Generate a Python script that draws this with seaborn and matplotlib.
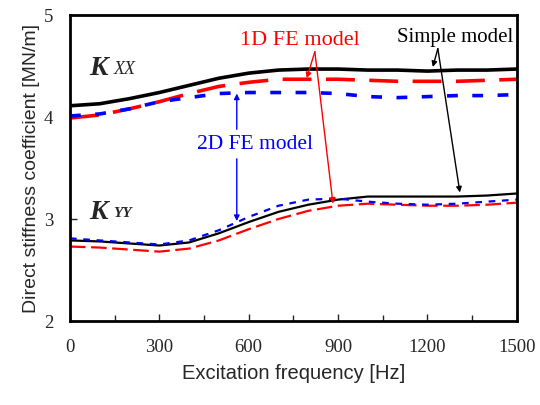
import matplotlib
matplotlib.use("Agg")
import matplotlib.pyplot as plt
import pandas as pd
import seaborn as sns

# Excitation frequency [Hz]
freq = [0, 100, 200, 300, 400, 500, 600, 700, 800, 900, 1000, 1100, 1200, 1300, 1400, 1500]

# Kxx [MN/m]
kxx_simple = [4.11, 4.13, 4.18, 4.24, 4.31, 4.38, 4.43, 4.46, 4.47, 4.47, 4.46, 4.46, 4.45, 4.46, 4.46, 4.47]
kxx_1d = [3.99, 4.02, 4.08, 4.15, 4.23, 4.30, 4.34, 4.37, 4.37, 4.37, 4.36, 4.35, 4.35, 4.35, 4.36, 4.37]
kxx_2d = [4.01, 4.03, 4.08, 4.15, 4.19, 4.23, 4.24, 4.24, 4.24, 4.23, 4.20, 4.19, 4.20, 4.21, 4.21, 4.22]

# Kyy [MN/m]
kyy_simple = [2.79, 2.78, 2.76, 2.74, 2.77, 2.86, 2.97, 3.07, 3.14, 3.19, 3.22, 3.22, 3.22, 3.22, 3.23, 3.25]
kyy_1d = [2.73, 2.72, 2.70, 2.68, 2.71, 2.79, 2.90, 3.00, 3.08, 3.13, 3.15, 3.14, 3.13, 3.13, 3.14, 3.16]
kyy_2d = [2.81, 2.79, 2.77, 2.75, 2.79, 2.89, 3.02, 3.13, 3.19, 3.20, 3.17, 3.15, 3.14, 3.15, 3.17, 3.19]

sns.set_style("ticks")
plt.rcParams['font.family'] = ['Liberation Sans', 'DejaVu Sans']

fig = plt.figure(figsize=(5.4, 4.06), dpi=100)
ax = fig.add_axes([0.1296, 0.2069, 0.8274, 0.7537])

serif = ['Liberation Serif', 'DejaVu Serif']

# (values, colour, dashes, linewidth)
series = [
    (kxx_simple, 'black', '', 2.6),
    (kxx_1d, '#ff0000', (8, 4), 2.6),
    (kxx_2d, '#0000ff', (3, 4), 2.6),
    (kyy_simple, 'black', '', 1.6),
    (kyy_1d, '#ff0000', (7, 2.5), 1.6),
    (kyy_2d, '#0000ff', (3, 3), 1.6),
]
for vals, color, dash, lw in series:
    df = pd.DataFrame({'freq': freq, 'k': vals})
    sns.lineplot(data=df, x='freq', y='k', ax=ax, color=color, linewidth=lw)
    if dash:
        ax.lines[-1].set_dashes(dash)

ax.set_xlim(0, 1500)
ax.set_ylim(2, 5)
ax.set_xticks([0, 300, 600, 900, 1200, 1500])
ax.set_xticks(range(150, 1500, 300), minor=True)
ax.set_yticks([2, 3, 4, 5])
ax.tick_params(direction='in', which='both', labelsize=13.5, pad=12)
ax.tick_params(which='major', length=5, width=1)
ax.tick_params(which='minor', length=4, width=1)
for lab in ax.get_xticklabels() + ax.get_yticklabels():
    lab.set_family(serif)
for s in ax.spines.values():
    s.set_linewidth(2)
    s.set_color('black')

ax.set_xlabel('Excitation frequency [Hz]', fontsize=14.5, labelpad=6)
ax.set_ylabel('Direct stiffness coefficient [MN/m]', fontsize=14, labelpad=3)

# component labels
ax.text(65, 4.49, 'K', fontsize=20, fontweight='bold', fontstyle='italic', family=serif, va='center')
ax.text(145, 4.48, 'XX', fontsize=13, fontstyle='italic', family=serif, va='center')
ax.text(65, 3.07, 'K', fontsize=20, fontweight='bold', fontstyle='italic', family=serif, va='center')
ax.text(145, 3.06, 'YY', fontsize=11, fontweight='bold', fontstyle='italic', family=serif, va='center')

# model labels with arrows
ax.text(772, 4.76, '1D FE model', color='#ff0000', fontsize=16, family=serif, ha='center', va='center')
ax.text(1292, 4.79, 'Simple model', color='black', fontsize=15, family=serif, ha='center', va='center')
ax.text(621, 3.74, '2D FE model', color='#0000ff', fontsize=15.5, family=serif, ha='center', va='center')

arrow = dict(arrowstyle='-|>', lw=1, mutation_scale=8, shrinkA=0, shrinkB=0)
for tgt in [(795, 4.38), (883, 3.15)]:
    ax.annotate('', xy=tgt, xytext=(822, 4.64), arrowprops=dict(arrow, color='#ff0000'))
for tgt in [(1218, 4.49), (1309, 3.26)]:
    ax.annotate('', xy=tgt, xytext=(1235, 4.67), arrowprops=dict(arrow, color='black'))
ax.annotate('', xy=(560, 4.23), xytext=(560, 3.88), arrowprops=dict(arrow, color='#0000ff'))
ax.annotate('', xy=(560, 2.98), xytext=(560, 3.59), arrowprops=dict(arrow, color='#0000ff'))

fig.savefig('out.png', dpi=100)
